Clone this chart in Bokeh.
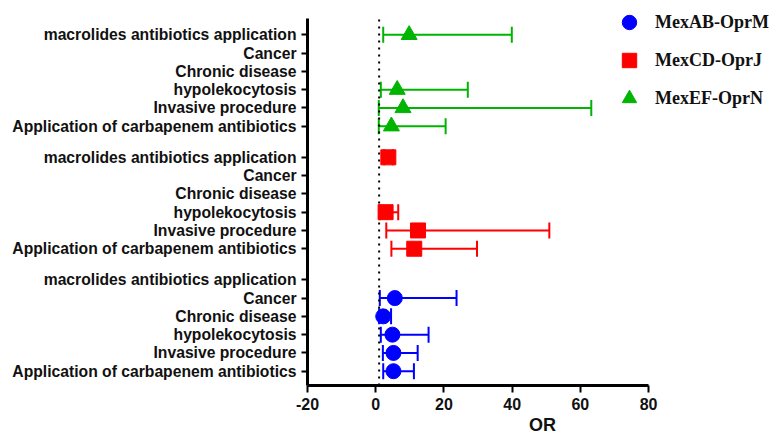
from bokeh.plotting import figure
from bokeh.models import ColumnDataSource, Whisker, TeeHead, FixedTicker, Legend, LegendItem
from bokeh.embed import file_html
from bokeh.resources import INLINE

# ---- data (rows listed bottom -> top within each group) ----
factors = ["Application of carbapenem antibiotics", "Invasive procedure", "hypolekocytosis",
           "Chronic disease", "Cancer", "macrolides antibiotics application"]
genes = ["MexAB-OprM", "MexCD-OprJ", "MexEF-OprN"]
colors = ["#0000ff", "#ff0000", "#00b400"]
markers = ["circle", "square", "triangle"]

ab_or = [5.2, 5.2, 4.9, 2.2, 5.6, None]
ab_lo = [2.2, 2.1, 1.5, 1.0, 1.2, None]
ab_hi = [11.2, 12.3, 15.5, 4.5, 23.7, None]

cd_or = [11.3, 12.4, 2.9, None, None, 3.7]
cd_lo = [4.6, 3.1, 1.2, None, None, 2.5]
cd_hi = [29.7, 50.9, 6.6, None, None, 5.0]

ef_or = [4.6, 8.0, 6.3, None, None, 9.8]
ef_lo = [0.9, 0.9, 1.5, None, None, 2.2]
ef_hi = [20.5, 63.2, 27.0, None, None, 39.9]

x_ticks = [-20, 0, 20, 40, 60, 80]
ref_or = 1

series = [(ab_or, ab_lo, ab_hi), (cd_or, cd_lo, cd_hi), (ef_or, ef_lo, ef_hi)]

# layout of rows: 10 units per row, group offset 67
ROW, GROUP, BASE = 10, 67, 10
Y_LOW, Y_AXIS_TOP, Y_TOP = 2.18, 202.9, 212.8
def ypos(g, r):
    return BASE + GROUP * g + ROW * r

p = figure(width=777, height=438, x_range=(-20, 117.8), y_range=(Y_LOW, Y_TOP),
           output_backend="svg", toolbar_location=None,
           min_border_left=307, min_border_bottom=53, min_border_top=0, min_border_right=0)
p.outline_line_color = None
p.xgrid.visible = False
p.ygrid.visible = False

# reference line at OR = 1
p.segment(x0=[ref_or], y0=[Y_LOW], x1=[ref_or], y1=[Y_AXIS_TOP], line_color="black",
          line_width=2, line_dash="2 5")

renderers = []
for g, (vals, los, his) in enumerate(series):
    ys, xs, lo, hi = [], [], [], []
    for r in range(len(factors)):
        if vals[r] is not None:
            ys.append(ypos(g, r)); xs.append(vals[r]); lo.append(los[r]); hi.append(his[r])
    src = ColumnDataSource(dict(y=ys, x=xs, lo=lo, hi=hi))
    w = Whisker(source=src, base="y", lower="lo", upper="hi", dimension="width",
                line_color=colors[g], line_width=2,
                upper_head=TeeHead(size=16, line_color=colors[g], line_width=2),
                lower_head=TeeHead(size=16, line_color=colors[g], line_width=2))
    p.add_layout(w)
    size = 16 if markers[g] == "triangle" else 15
    rr = p.scatter("x", "y", source=src, marker=markers[g], size=size,
                   fill_color=colors[g], line_color=colors[g])
    renderers.append(rr)

legend = Legend(items=[LegendItem(label=genes[i], renderers=[renderers[i]]) for i in range(3)],
                location=(304, 269), padding=0, margin=0, spacing=2,
                glyph_width=36, glyph_height=36, label_height=36, label_standoff=8,
                label_text_font="Liberation Serif", label_text_font_style="bold",
                label_text_font_size="18px", label_text_color="#111111",
                border_line_color=None, background_fill_alpha=0)
p.add_layout(legend)

# y axis
yt = [ypos(g, r) for g in range(3) for r in range(len(factors))]
p.yaxis.ticker = FixedTicker(ticks=yt, minor_ticks=[])
p.yaxis.major_label_overrides = {ypos(g, r): factors[r] for g in range(3) for r in range(len(factors))}
p.yaxis.bounds = (Y_LOW, Y_AXIS_TOP)
p.yaxis.axis_line_width = 3
p.yaxis.major_tick_line_width = 2
p.yaxis.major_tick_out = 6
p.yaxis.major_tick_in = 0
p.yaxis.minor_tick_line_color = None
p.yaxis.major_label_standoff = 5
p.yaxis.major_label_text_font = "Liberation Sans"
p.yaxis.major_label_text_font_style = "bold"
p.yaxis.major_label_text_font_size = "15.7px"
p.yaxis.major_label_text_color = "#111111"

# x axis
p.xaxis.ticker = FixedTicker(ticks=x_ticks, minor_ticks=[])
p.xaxis.major_label_overrides = {t: str(t) for t in x_ticks}
p.xaxis.bounds = (-20, 80)
p.xaxis.axis_line_width = 3
p.xaxis.major_tick_line_width = 2
p.xaxis.major_tick_out = 7
p.xaxis.major_tick_in = 0
p.xaxis.minor_tick_line_color = None
p.xaxis.major_label_standoff = 5
p.xaxis.major_label_text_font = "Liberation Sans"
p.xaxis.major_label_text_font_style = "bold"
p.xaxis.major_label_text_font_size = "16px"
p.xaxis.major_label_text_line_height = 1.0
p.xaxis.major_label_text_color = "#111111"
p.xaxis.axis_label = "OR"
p.xaxis.axis_label_standoff = 2
p.xaxis.axis_label_text_font = "Liberation Sans"
p.xaxis.axis_label_text_font_style = "bold"
p.xaxis.axis_label_text_font_size = "18px"
p.xaxis.axis_label_text_line_height = 1.0
p.xaxis.axis_label_text_color = "#111111"

open("out.html", "w").write(file_html(p, INLINE))
